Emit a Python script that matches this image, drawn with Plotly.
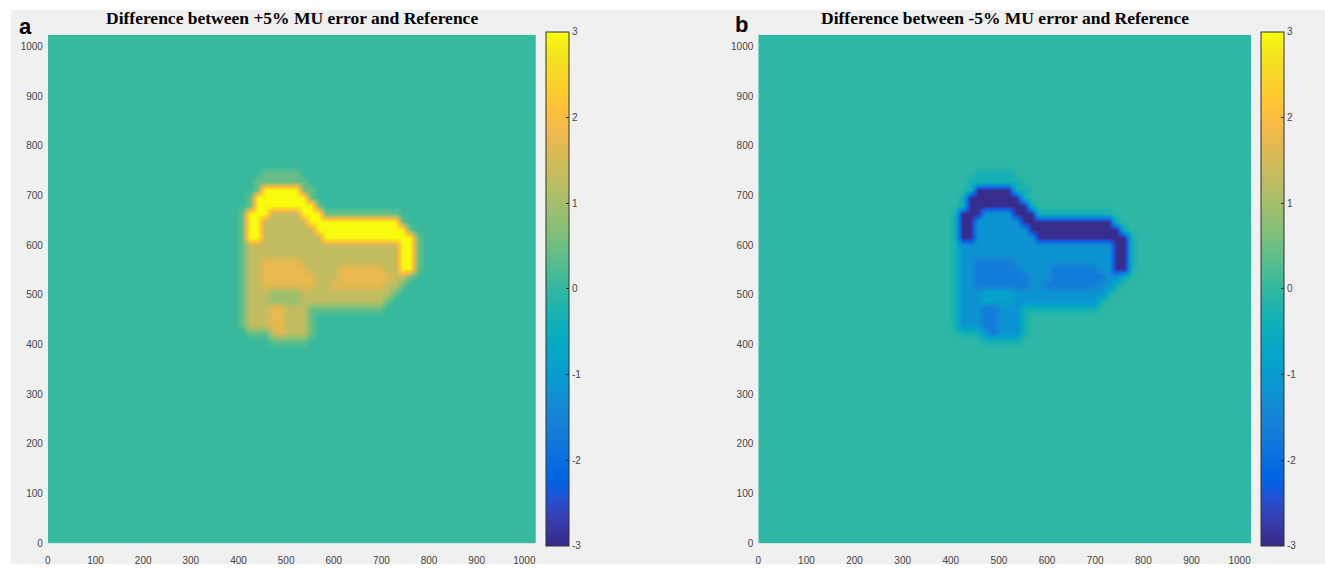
import plotly.graph_objects as go

# ---------------- data ----------------
# Dose-difference maps on a 1024x1024 grid, sampled in 16-unit cells.
# The difference region is described row by row (top row = highest y) as runs of
# (first column, last column, level); columns count from x = 400, rows from y = 752 down.
REGION_X0 = 400
REGION_YTOP = 752
CELL = 16
GRID_N = 64
SHAPE_RUNS = [
    [(3, 7, "h")],
    [(2, 8, "h")],
    [(2, 2, "h"), (3, 7, "y"), (8, 9, "h")],
    [(1, 1, "h"), (2, 8, "y"), (9, 9, "h")],
    [(1, 1, "h"), (2, 9, "y"), (10, 10, "h")],
    [(0, 0, "h"), (1, 3, "y"), (4, 7, "o"), (8, 10, "y"), (11, 20, "h")],
    [(0, 0, "h"), (1, 2, "y"), (3, 8, "o"), (9, 20, "y"), (21, 21, "h")],
    [(0, 0, "h"), (1, 2, "y"), (3, 9, "o"), (10, 21, "y"), (22, 22, "h")],
    [(0, 0, "h"), (1, 2, "y"), (3, 10, "o"), (11, 22, "y"), (23, 23, "h")],
    [(0, 0, "h"), (1, 20, "o"), (21, 22, "y"), (23, 23, "h")],
    [(0, 0, "h"), (1, 20, "o"), (21, 22, "y"), (23, 23, "h")],
    [(0, 0, "h"), (1, 2, "o"), (3, 7, "r"), (8, 20, "o"), (21, 22, "y"), (23, 23, "h")],
    [(0, 0, "h"), (1, 2, "o"), (3, 8, "r"), (9, 12, "o"), (13, 18, "r"), (19, 20, "o"), (21, 22, "y"), (23, 23, "h")],
    [(0, 0, "h"), (1, 2, "o"), (3, 9, "r"), (10, 12, "o"), (13, 19, "r"), (20, 21, "o"), (22, 22, "h")],
    [(0, 0, "h"), (1, 2, "o"), (3, 9, "r"), (10, 11, "o"), (12, 18, "r"), (19, 20, "o"), (21, 21, "h")],
    [(0, 0, "h"), (1, 3, "o"), (4, 7, "g"), (8, 19, "o"), (20, 20, "h")],
    [(0, 0, "h"), (1, 3, "o"), (4, 7, "g"), (8, 18, "o"), (19, 19, "h")],
    [(0, 0, "h"), (1, 3, "o"), (4, 5, "r"), (6, 8, "o"), (9, 18, "h")],
    [(0, 0, "h"), (1, 3, "o"), (4, 5, "r"), (6, 8, "o"), (9, 9, "h")],
    [(0, 0, "h"), (1, 3, "o"), (4, 5, "r"), (6, 8, "o"), (9, 9, "h")],
    [(1, 3, "h"), (4, 4, "o"), (5, 5, "r"), (6, 8, "o"), (9, 9, "h")],
    [(4, 8, "h")],
]
# value of each level (Gy) in panel a (+5% MU) and panel b (-5% MU); "." = background
LEVELS_A = {".": 0.05, "h": 0.45, "g": 0.9, "o": 1.3, "r": 1.75, "y": 3.0}
LEVELS_B = {".": -0.05, "h": -0.35, "g": -0.8, "o": -1.2, "r": -1.7, "y": -2.95}
X_TICKS = [0, 100, 200, 300, 400, 500, 600, 700, 800, 900, 1000]
Y_TICKS = [0, 100, 200, 300, 400, 500, 600, 700, 800, 900, 1000]
CB_TICKS = [-3, -2, -1, 0, 1, 2, 3]
CB_TICKTEXT = ["-3", "-2", "-1", "0", "1", "2", "3"]
TITLE_A = "Difference between +5% MU error and Reference"
TITLE_B = "Difference between -5% MU error and Reference"

PARULA = [
    [0.2081, 0.1663, 0.5292], [0.2116238095, 0.1897809524, 0.5776761905], [0.212252381, 0.2137714286, 0.6269714286],
    [0.2081, 0.2386, 0.6770857143], [0.1959047619, 0.2644571429, 0.7279], [0.1707285714, 0.2919380952, 0.779247619],
    [0.1252714286, 0.3242428571, 0.8302714286], [0.0591333333, 0.3598333333, 0.8683333333], [0.0116952381, 0.3875095238, 0.8819571429],
    [0.0059571429, 0.4086142857, 0.8828428571], [0.0165142857, 0.4266, 0.8786333333], [0.032852381, 0.4430428571, 0.8719571429],
    [0.0498142857, 0.4585714286, 0.8640571429], [0.0629333333, 0.4736904762, 0.8554380952], [0.0722666667, 0.4886666667, 0.8467],
    [0.0779428571, 0.5039857143, 0.8383714286], [0.079347619, 0.5200238095, 0.8311809524], [0.0749428571, 0.5375428571, 0.8262714286],
    [0.0640571429, 0.5569857143, 0.8239571429], [0.0487714286, 0.5772238095, 0.8228285714], [0.0343428571, 0.5965809524, 0.819852381],
    [0.0265, 0.6137, 0.8135], [0.0238904762, 0.6286619048, 0.8037619048], [0.0230904762, 0.6417857143, 0.7912666667],
    [0.0227714286, 0.6534857143, 0.7767571429], [0.0266619048, 0.6641952381, 0.7607190476], [0.0383714286, 0.6742714286, 0.743552381],
    [0.0589714286, 0.6837571429, 0.7253857143], [0.0843, 0.6928333333, 0.7061666667], [0.1132952381, 0.7015, 0.6858571429],
    [0.1452714286, 0.7097571429, 0.6646285714], [0.1801333333, 0.7176571429, 0.6424333333], [0.2178285714, 0.7250428571, 0.6192619048],
    [0.2586428571, 0.7317142857, 0.5954285714], [0.3021714286, 0.7376047619, 0.5711857143], [0.3481666667, 0.7424333333, 0.5472666667],
    [0.3952571429, 0.7459, 0.5244428571], [0.4420095238, 0.7480809524, 0.5033142857], [0.4871238095, 0.7490619048, 0.4839761905],
    [0.5300285714, 0.7491142857, 0.4661142857], [0.5708571429, 0.7485190476, 0.4493904762], [0.609852381, 0.7473142857, 0.4336857143],
    [0.6473, 0.7456, 0.4188], [0.6834190476, 0.7434761905, 0.4044333333], [0.7184095238, 0.7411333333, 0.3904761905],
    [0.7524857143, 0.7384, 0.3768142857], [0.7858428571, 0.7355666667, 0.3632714286], [0.8185047619, 0.7327333333, 0.3497904762],
    [0.8506571429, 0.7299, 0.3360285714], [0.8824333333, 0.7274333333, 0.3217], [0.9139333333, 0.7257857143, 0.3062761905],
    [0.9449571429, 0.7261142857, 0.2886428571], [0.9738952381, 0.7313952381, 0.266647619], [0.9937714286, 0.7454571429, 0.240347619],
    [0.9990428571, 0.7653142857, 0.2164142857], [0.9955333333, 0.7860571429, 0.196652381], [0.988, 0.8066, 0.1793666667],
    [0.9788571429, 0.8271428571, 0.1633142857], [0.9697, 0.8481380952, 0.147452381], [0.9625857143, 0.8705142857, 0.1309],
    [0.9588714286, 0.8949, 0.1132428571], [0.9598238095, 0.9218333333, 0.0948380952], [0.9661, 0.9514428571, 0.0755333333],
    [0.9763, 0.9831, 0.0538],
]
COLORSCALE = [[i / (len(PARULA) - 1), "rgb(%d,%d,%d)" % tuple(round(c * 255) for c in rgb)] for i, rgb in enumerate(PARULA)]


def build_grid(levels):
    bg = levels["."]
    z = [[bg] * GRID_N for _ in range(GRID_N)]
    col0 = REGION_X0 // CELL
    rowtop = REGION_YTOP // CELL - 1
    for j, runs in enumerate(SHAPE_RUNS):
        for c0, c1, ch in runs:
            for i in range(c0, c1 + 1):
                z[rowtop - j][col0 + i] = levels[ch]
    return z


W, H = 1325, 570


def px_x(p):
    return p / W


def px_y(p):
    return 1 - p / H


TICKFONT = dict(family="Liberation Sans, Arial", size=10, color="#444444")

fig = go.Figure()
panels = [
    (LEVELS_A, "x", "y", 45, 534, 544, TITLE_A, "a", 23, 27),
    (LEVELS_B, "x2", "y2", 757, 1251, 1261, TITLE_B, "b", 740, 25),
]
for levels, xa, ya, xl, xr, cbx, title, letter, lx, ly in panels:
    fig.add_trace(go.Heatmap(
        z=build_grid(levels), x0=CELL / 2, dx=CELL, y0=CELL / 2, dy=CELL,
        zmin=-3, zmax=3, colorscale=COLORSCALE, zsmooth="best",
        xaxis=xa, yaxis=ya, hoverinfo="skip",
        colorbar=dict(
            x=px_x(cbx), xanchor="left", y=px_y(292), yanchor="middle",
            len=514, lenmode="pixels", thickness=23, thicknessmode="pixels",
            outlinewidth=1, outlinecolor="#303030", tickvals=CB_TICKS, ticktext=CB_TICKTEXT,
            ticks="inside", ticklen=3, tickcolor="#303030", tickfont=TICKFONT,
            xpad=0, ypad=0, bgcolor="rgba(0,0,0,0)",
        ),
    ))
    fig.add_annotation(text="<b>%s</b>" % title, x=px_x((xl + xr) / 2), y=px_y(18),
                       xref="paper", yref="paper", showarrow=False, xanchor="center", yanchor="middle",
                       font=dict(family="Liberation Serif, Times New Roman", size=17.5, color="black"))
    fig.add_annotation(text="<b>%s</b>" % letter, x=px_x(lx), y=px_y(ly),
                       xref="paper", yref="paper", showarrow=False, xanchor="center", yanchor="middle",
                       font=dict(family="Liberation Sans, Arial", size=22, color="black"))

axis_common = dict(range=[0, 1024], showgrid=False, zeroline=False, ticks="", showline=False,
                   tickfont=TICKFONT, fixedrange=True)
fig.update_layout(
    width=W, height=H, margin=dict(l=0, r=0, t=0, b=0),
    paper_bgcolor="white", plot_bgcolor="#f0f0f0", showlegend=False,
    xaxis=dict(domain=[px_x(45), px_x(534)], anchor="y", tickvals=X_TICKS, ticklabelstandoff=10, **axis_common),
    yaxis=dict(domain=[px_y(549), px_y(35)], anchor="x", tickvals=Y_TICKS, ticklabelstandoff=4, **axis_common),
    xaxis2=dict(domain=[px_x(757), px_x(1251)], anchor="y2", tickvals=X_TICKS, ticklabelstandoff=10, **axis_common),
    yaxis2=dict(domain=[px_y(549), px_y(35)], anchor="x2", tickvals=Y_TICKS, ticklabelstandoff=4, **axis_common),
    shapes=[dict(type="rect", xref="paper", yref="paper", x0=px_x(8), x1=1, y0=0, y1=px_y(10),
                 fillcolor="#f0f0f0", line=dict(width=0), layer="below")],
)

fig.write_html("out.html")
